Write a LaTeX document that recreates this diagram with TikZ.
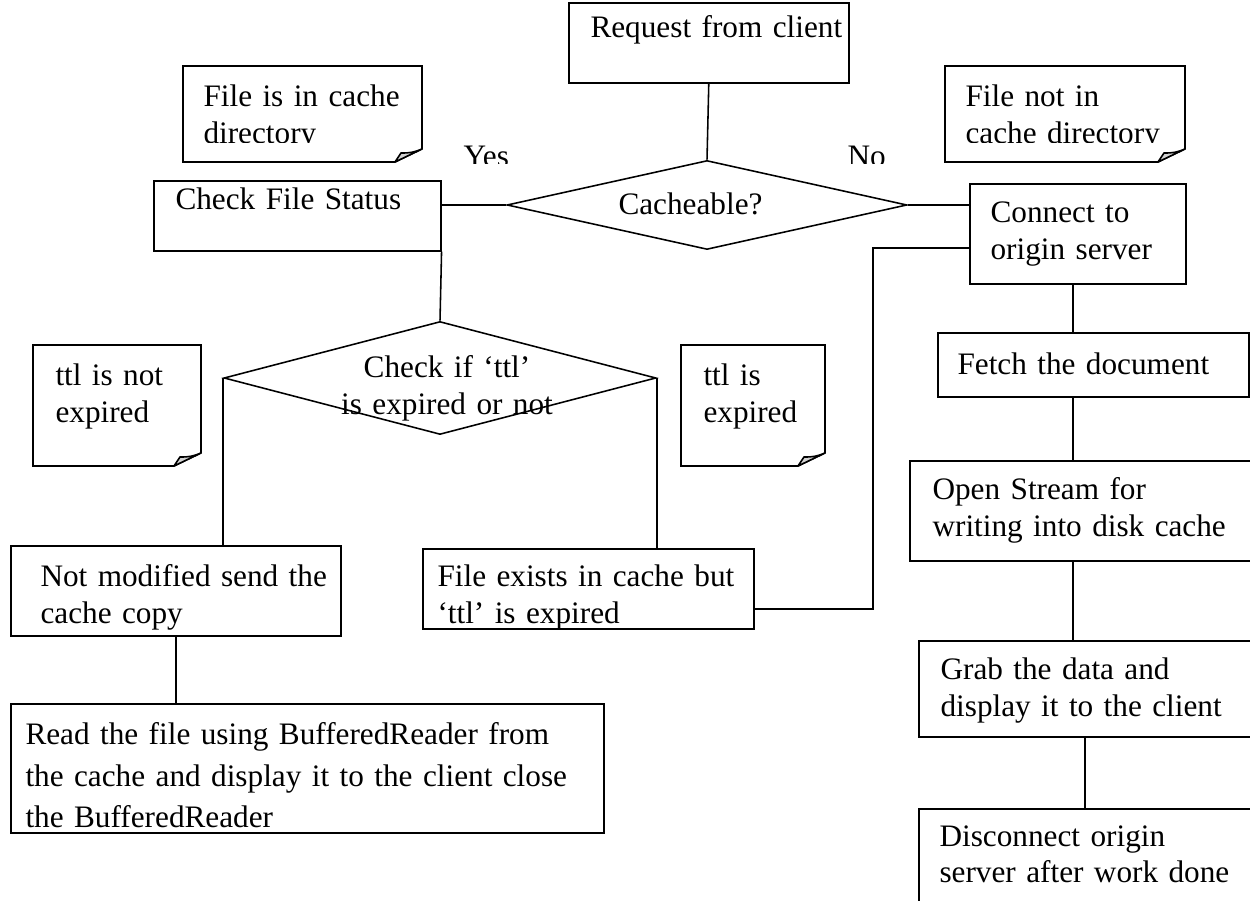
\documentclass[tikz,border=0pt]{standalone}
\usepackage{fontspec}
\setmainfont{Liberation Serif}
\usetikzlibrary{shapes.geometric}
\def\pxu{0.384pt}
\newcommand\foldnote[4]{%
  \draw[line width=0.6pt] (#1,#2) -- (#3,#2) -- (#3,#4-13) -- (#3-27,#4) -- (#1,#4) -- cycle;
  \filldraw[flap] (#3,#4-13) -- (#3-27,#4) -- (#3-21,#4-9) to[bend right=12] (#3,#4-13);
}
\begin{document}
\begin{tikzpicture}[x=0.384pt,y=-0.384pt,
  box/.style={draw, line width=0.6pt, rectangle, inner sep=0pt, anchor=north west},
  dia/.style={draw, line width=0.6pt, diamond, inner sep=0pt},
  txt/.style={inner sep=0pt, anchor=base west, align=left, text width=900*\pxu,
    font=\fontsize{12pt}{14.2pt}\selectfont},
  ctxt/.style={inner sep=0pt, anchor=base, align=center, text width=300*\pxu,
    font=\fontsize{12pt}{14.2pt}\selectfont},
  link/.style={line width=0.6pt},
  flap/.style={draw, line width=0.6pt, fill=gray!35, line join=round},
]
\clip (0,0) rectangle (1250,901);
\fill[white] (0,0) rectangle (1250,901);

% boxes
\node[box, minimum width=280*\pxu, minimum height=80*\pxu] (req) at (568,2) {};
\node[box, minimum width=287*\pxu, minimum height=70*\pxu] (check) at (153,180) {};
\node[box, minimum width=216*\pxu, minimum height=100*\pxu] (conn) at (969,183) {};
\node[box, minimum width=311*\pxu, minimum height=64*\pxu] (fetch) at (937,332) {};
\node[box, minimum width=343*\pxu, minimum height=100*\pxu] (open) at (909,460) {};
\node[box, minimum width=340*\pxu, minimum height=96*\pxu] (grab) at (918,640) {};
\node[box, minimum width=340*\pxu, minimum height=110*\pxu] (disc) at (918,808) {};
\node[box, minimum width=330*\pxu, minimum height=90*\pxu] (notmod) at (10,545) {};
\node[box, minimum width=331*\pxu, minimum height=80*\pxu] (fileex) at (422,548) {};
\node[box, minimum width=593*\pxu, minimum height=129*\pxu] (read) at (10,703) {};

% diamonds
\node[dia, minimum width=400*\pxu, minimum height=89*\pxu] (d1) at (707,205) {};
\node[dia, minimum width=432*\pxu, minimum height=113*\pxu] (d2) at (440,378) {};

% notes with folded corner
\foldnote{183}{66}{422}{162}
\foldnote{945}{66}{1185}{162}
\foldnote{33}{345}{201}{466}
\foldnote{681}{345}{825}{466}

% texts
\node[txt] (reqT) at (590,38) {Request from client};
\node[txt] (cfsT) at (175,210) {Check File Status};
\node[txt] (d1T) at (618,215) {Cacheable?};
\node[txt] (connT) at (990,223) {Connect to\\origin server};
\node[ctxt] (d2T) at (447,378) {Check if ‘ttl’\\is expired or not};
\node[txt] (fetchT) at (957,375) {Fetch the document};
\node[txt] (openT) at (932,500) {Open Stream for\\writing into disk cache};
\node[txt] (grabT) at (940,680) {Grab the data and\\display it to the client};
\node[txt] (discT) at (939,846) {Disconnect origin\\server after work done};
\node[txt] (notmodT) at (40,587) {Not modified send the\\cache copy};
\node[txt] (fileexT) at (437,587) {File exists in cache but\\‘ttl’ is expired};
\node[txt, font=\fontsize{12pt}{15.8pt}\selectfont] (readT) at (25,745)
  {Read the file using BufferedReader from\\the cache and display it to the client close\\the BufferedReader};
\node[txt] (n3T) at (55,386) {ttl is not\\expired};
\node[txt] (n4T) at (703,386) {ttl is\\expired};
\begin{scope}
  \clip (0,0) rectangle (1250,143);
  \node[txt] (n1T) at (203,107) {File is in cache\\directory};
  \node[txt] (n2T) at (965,107) {File not in\\cache directory};
\end{scope}
\begin{scope}
  \clip (0,0) rectangle (1250,164);
  \node[txt] (yesT) at (463,167) {Yes};
  \node[txt] (noT) at (847,167) {No};
\end{scope}

% connectors
\coordinate (rc) at (1073,0);
\coordinate (rc2) at (1085,0);
\coordinate (elbA) at (873,609);
\coordinate (elbB) at (873,248);
\draw[link] (req.south) -- (d1.north);
\draw[link] (d1.west) -- (d1.west -| check.east);
\draw[link] (d1.east) -- (d1.east -| conn.west);
\draw[link] (check.south east) -- (d2.north);
\draw[link] (d2.west) -- (d2.west |- notmod.north);
\draw[link] (d2.east) -- (d2.east |- fileex.north);
\draw[link] (notmod.south) -- (notmod.south |- read.north);
\draw[link] (fileex.east |- elbA) -- (elbA) -- (elbB) -- (elbB -| conn.west);
\draw[link] (conn.south -| rc) -- (fetch.north -| rc);
\draw[link] (fetch.south -| rc) -- (open.north -| rc);
\draw[link] (open.south -| rc) -- (grab.north -| rc);
\draw[link] (grab.south -| rc2) -- (disc.north -| rc2);
\end{tikzpicture}
\end{document}
